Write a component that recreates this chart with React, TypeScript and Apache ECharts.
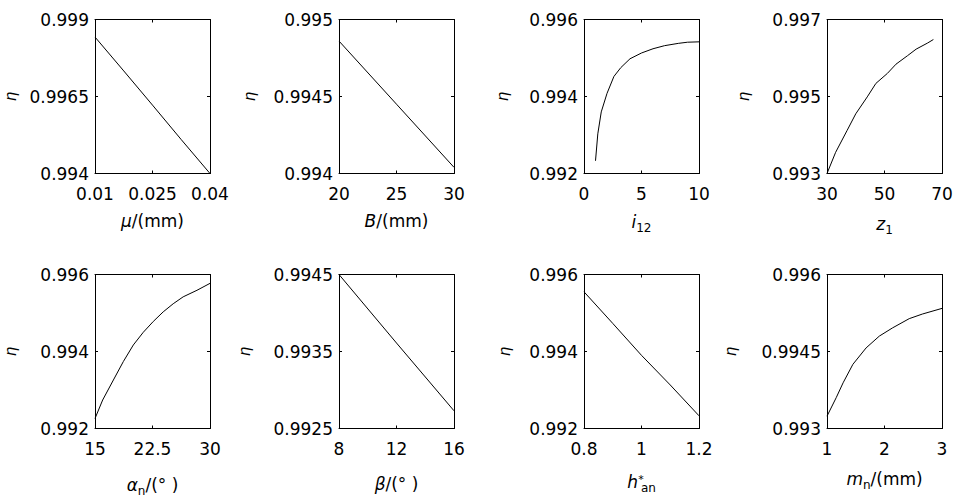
import React, { useEffect, useRef } from "react";
import * as echarts from "echarts";

// Efficiency η against each design parameter
const muX = [0.01, 0.0175, 0.025, 0.0325, 0.04];
const muEta = [0.99843, 0.99733, 0.99622, 0.9951, 0.994];
const muXTicks = ["0.01", "0.025", "0.04"];
const muYTicks = ["0.994", "0.9965", "0.999"];

const bX = [20, 25, 30];
const bEta = [0.99486, 0.99445, 0.99404];
const bXTicks = ["20", "25", "30"];
const bYTicks = ["0.994", "0.9945", "0.995"];

const iX = [1, 1.2, 1.5, 2, 2.6, 3.2, 4, 5, 6, 7, 8.2, 9, 10];
const iEta = [0.99233, 0.99303, 0.9936, 0.99408, 0.99452, 0.99475, 0.99498, 0.99513, 0.99524, 0.99532, 0.99538, 0.99541, 0.99542];
const iXTicks = ["0", "5", "10"];
const iYTicks = ["0.992", "0.994", "0.996"];

const zX = [30, 33, 37, 40, 44, 47, 51, 54, 58, 61, 65, 67];
const zEta = [0.993, 0.99355, 0.99412, 0.99455, 0.99499, 0.99534, 0.9956, 0.99584, 0.99606, 0.99623, 0.99639, 0.99648];
const zXTicks = ["30", "50", "70"];
const zYTicks = ["0.993", "0.995", "0.997"];

const aX = [15, 16, 17.4, 18.7, 20, 21.3, 22.6, 23.9, 25.2, 26.5, 28.3, 30];
const aEta = [0.99226, 0.99274, 0.99326, 0.99374, 0.99417, 0.9945, 0.99478, 0.99503, 0.99524, 0.99542, 0.99559, 0.99577];
const aXTicks = ["15", "22.5", "30"];
const aYTicks = ["0.992", "0.994", "0.996"];

const betaX = [8, 12, 16];
const betaEta = [0.9945, 0.99361, 0.99273];
const betaXTicks = ["8", "12", "16"];
const betaYTicks = ["0.9925", "0.9935", "0.9945"];

const hX = [0.8, 0.9, 1.0, 1.1, 1.2];
const hEta = [0.99555, 0.99473, 0.9939, 0.99313, 0.99233];
const hXTicks = ["0.8", "1", "1.2"];
const hYTicks = ["0.992", "0.994", "0.996"];

const mX = [1, 1.16, 1.28, 1.45, 1.68, 1.91, 2.14, 2.43, 2.66, 3];
const mEta = [0.99324, 0.9936, 0.99389, 0.99425, 0.99457, 0.9948, 0.99496, 0.99514, 0.99523, 0.99534];
const mXTicks = ["1", "2", "3"];
const mYTicks = ["0.993", "0.9945", "0.996"];

const FONT = "DejaVu Sans";
const FS = 17;

type Panel = {
  x: number[];
  y: number[];
  xTicks: string[];
  yTicks: string[];
  xName: string;
  xGap: number;
  yGap: number;
};

const panels: Panel[] = [
  { x: muX, y: muEta, xTicks: muXTicks, yTicks: muYTicks, xName: "{i|μ}{r|/(mm)}", xGap: 39, yGap: 77 },
  { x: bX, y: bEta, xTicks: bXTicks, yTicks: bYTicks, xName: "{i|B}{r|/(mm)}", xGap: 39, yGap: 82 },
  { x: iX, y: iEta, xTicks: iXTicks, yTicks: iYTicks, xName: "{i|i}{sub|12}", xGap: 40, yGap: 74 },
  { x: zX, y: zEta, xTicks: zXTicks, yTicks: zYTicks, xName: "{i|z}{sub|1}", xGap: 42, yGap: 76 },
  { x: aX, y: aEta, xTicks: aXTicks, yTicks: aYTicks, xName: "{i|α}{sub|n}{r|/(° )}", xGap: 48, yGap: 77 },
  { x: betaX, y: betaEta, xTicks: betaXTicks, yTicks: betaYTicks, xName: "{i|β}{r|/(° )}", xGap: 47, yGap: 87 },
  { x: hX, y: hEta, xTicks: hXTicks, yTicks: hYTicks, xName: "{i|h}{sup|*}{sub|an}", xGap: 45, yGap: 72 },
  { x: mX, y: mEta, xTicks: mXTicks, yTicks: mYTicks, xName: "{i|m}{sub|n}{r|/(mm)}", xGap: 42, yGap: 89 },
];

const colLefts = [95, 339, 584, 827];
const rowTops = [19.5, 274.5];
const boxW = 115;
const boxH = 154;

const nameRich = {
  i: { fontFamily: FONT, fontSize: FS, fontStyle: "italic", color: "#000", lineHeight: 20, verticalAlign: "top" },
  r: { fontFamily: FONT, fontSize: FS, color: "#000", lineHeight: 20, verticalAlign: "top" },
  sub: { fontFamily: FONT, fontSize: 12, color: "#000", lineHeight: 12, padding: [12, 0, 0, 0], verticalAlign: "bottom" },
  sup: { fontFamily: FONT, fontSize: 11, color: "#000", lineHeight: 9, width: 0, padding: [0, 0, 0, 3], align: "left", verticalAlign: "top" },
};

function tickFormatter(labels: string[]) {
  const nums = labels.map(Number);
  return (v: number) => {
    let best = 0;
    for (let k = 1; k < nums.length; k++) {
      if (Math.abs(nums[k] - v) < Math.abs(nums[best] - v)) best = k;
    }
    return labels[best];
  };
}

function buildOption() {
  const grid: any[] = [];
  const xAxis: any[] = [];
  const yAxis: any[] = [];
  const series: any[] = [];
  const line = { show: true, onZero: false, lineStyle: { color: "#000", width: 1 } };

  panels.forEach((p, idx) => {
    const row = Math.floor(idx / 4);
    const col = idx % 4;
    grid.push({
      left: colLefts[col],
      top: rowTops[row],
      width: boxW,
      height: boxH,
      containLabel: false,
      outerBoundsMode: "none",
    });
    const xv = p.xTicks.map(Number);
    const yv = p.yTicks.map(Number);
    const xMin = xv[0];
    const xMax = xv[xv.length - 1];
    const yMin = yv[0];
    const yMax = yv[yv.length - 1];
    const tick = (vals: number[]) => ({ show: true, inside: true, length: 3, customValues: vals, lineStyle: { color: "#000", width: 1 } });

    xAxis.push({
      gridIndex: idx,
      type: "value",
      position: "bottom",
      min: xMin,
      max: xMax,
      axisLine: line,
      axisTick: tick(xv),
      splitLine: { show: false },
      axisLabel: {
        customValues: xv,
        formatter: tickFormatter(p.xTicks),
        fontFamily: FONT,
        fontSize: FS,
        color: "#000",
        margin: 12,
        hideOverlap: false,
      },
      name: p.xName,
      nameLocation: "middle",
      nameGap: p.xGap,
      nameMoveOverlap: false,
      nameTextStyle: { fontFamily: FONT, fontSize: FS, color: "#000", rich: nameRich },
    });
    xAxis.push({
      gridIndex: idx,
      type: "value",
      position: "top",
      min: xMin,
      max: xMax,
      axisLine: line,
      axisTick: tick(xv),
      splitLine: { show: false },
      axisLabel: { show: false },
    });
    yAxis.push({
      gridIndex: idx,
      type: "value",
      position: "left",
      min: yMin,
      max: yMax,
      axisLine: line,
      axisTick: tick(yv),
      splitLine: { show: false },
      axisLabel: {
        customValues: yv,
        formatter: tickFormatter(p.yTicks),
        fontFamily: FONT,
        fontSize: FS,
        color: "#000",
        margin: 6,
        hideOverlap: false,
      },
      name: "η",
      nameLocation: "middle",
      nameGap: p.yGap,
      nameRotate: 90,
      nameMoveOverlap: false,
      nameTextStyle: { fontFamily: FONT, fontSize: 15, fontStyle: "italic", color: "#000" },
    });
    yAxis.push({
      gridIndex: idx,
      type: "value",
      position: "right",
      min: yMin,
      max: yMax,
      axisLine: line,
      axisTick: tick(yv),
      splitLine: { show: false },
      axisLabel: { show: false },
    });
    series.push({
      type: "line",
      xAxisIndex: idx * 2,
      yAxisIndex: idx * 2,
      data: p.x.map((v, k) => [v, p.y[k]]),
      showSymbol: false,
      smooth: false,
      lineStyle: { color: "#000", width: 1 },
      silent: true,
    });
  });

  return {
    animation: false,
    backgroundColor: "#fff",
    grid,
    xAxis,
    yAxis,
    series,
  };
}

export default function App() {
  const ref = useRef<HTMLDivElement>(null);
  useEffect(() => {
    if (!ref.current) return;
    const chart = echarts.init(ref.current, undefined, { renderer: "svg" });
    chart.setOption(buildOption() as any);
    return () => chart.dispose();
  }, []);
  return <div ref={ref} style={{ position: "absolute", left: 0, top: 0, width: 954, height: 504 }} />;
}
